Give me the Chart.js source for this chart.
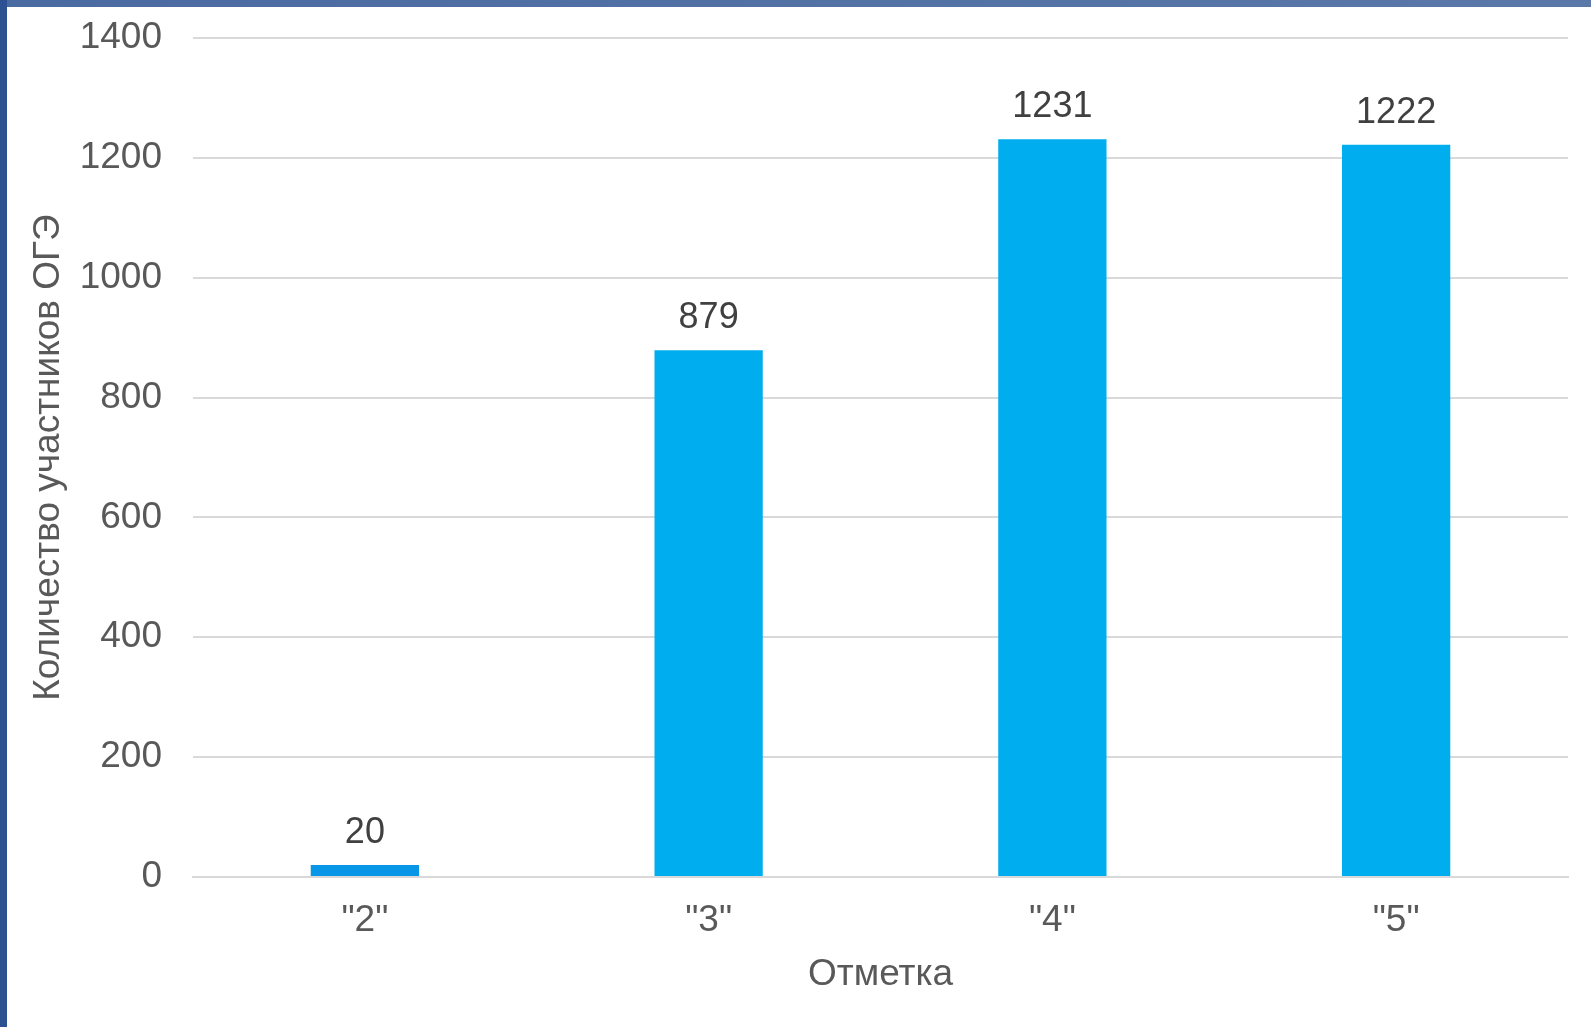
<!DOCTYPE html>
<html>
<head>
<meta charset="utf-8">
<script src="https://cdn.jsdelivr.net/npm/chart.js@4"></script>
<style>
    html, body { margin: 0; padding: 0; background: #fff; }
    #wrap { position: relative; width: 1591px; height: 1027px; overflow: hidden; }
    #frameTop { position: absolute; left: 0; top: 0; width: 1591px; height: 7px; background: linear-gradient(to right, #4a6aa2, #5a78a8); }
    #frameLeft { position: absolute; left: 0; top: 0; width: 7px; height: 1027px; background: #2d5291; }
</style>
</head>
<body>
<div id="wrap">
    <canvas id="chart" width="1591" height="1027"></canvas>
    <div id="frameTop"></div>
    <div id="frameLeft"></div>
</div>
<script>
const categories = ['"2"', '"3"', '"4"', '"5"'];
const participants = [20, 879, 1231, 1222];
const barColors = ['#0896E6', '#00AEEF', '#00AEEF', '#00AEEF'];
const yTicks = [0, 200, 400, 600, 800, 1000, 1200, 1400];

const fontFamily = '"Liberation Sans", Arial, sans-serif';

// --- value labels above bars ---
const valueLabels = {
    id: 'valueLabels',
    afterDatasetsDraw(chart) {
        const ctx = chart.ctx;
        const meta = chart.getDatasetMeta(0);
        ctx.save();
        ctx.font = '36px ' + fontFamily;
        ctx.fillStyle = '#404040';
        ctx.textAlign = 'center';
        ctx.textBaseline = 'bottom';
        meta.data.forEach((bar, i) => {
            ctx.fillText(String(participants[i]), bar.x, bar.y - 14);
        });
        ctx.restore();
    }
};

const ctx = document.getElementById('chart').getContext('2d');
new Chart(ctx, {
    type: 'bar',
    data: {
        labels: categories,
        datasets: [{
            data: participants,
            backgroundColor: barColors,
            borderWidth: 0,
            barPercentage: 0.315,
            categoryPercentage: 1
        }]
    },
    options: {
        responsive: false,
        animation: false,
        layout: { padding: { top: 38, right: 23, left: 23, bottom: 30 } },
        plugins: {
            legend: { display: false },
            tooltip: { enabled: false }
        },
        scales: {
            x: {
                grid: { display: false },
                border: { color: '#d9d9d9', width: 2 },
                ticks: { color: '#595959', font: { family: fontFamily, size: 37 }, padding: 14 },
                title: { display: true, text: 'Отметка', color: '#595959', font: { family: fontFamily, size: 37 }, padding: { top: 6, bottom: 0 } },
                afterFit(scale) { scale.height = 1027 - 877 - 30; }
            },
            y: {
                min: 0,
                max: 1400,
                afterBuildTicks(scale) { scale.ticks = yTicks.map(v => ({ value: v })); },
                grid: { color: '#d9d9d9', lineWidth: 2, drawTicks: false },
                border: { display: false },
                ticks: { color: '#595959', font: { family: fontFamily, size: 37 }, padding: 31, callback: v => String(v) },
                title: { display: true, text: 'Количество участников ОГЭ', color: '#595959', font: { family: fontFamily, size: 37 }, padding: { top: 4, bottom: 4 } },
                afterFit(scale) {
                    scale.width = 193 - 23;
                    scale.paddingTop = 0;
                    scale.paddingBottom = 0;
                }
            }
        }
    },
    plugins: [valueLabels]
});
</script>
</body>
</html>
